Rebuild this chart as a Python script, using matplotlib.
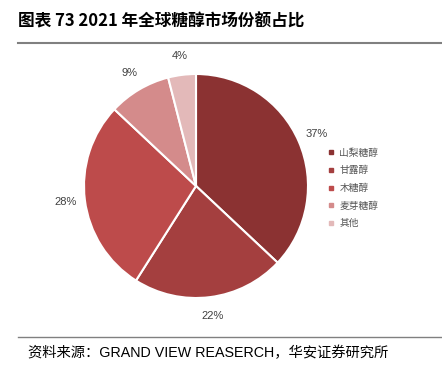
import matplotlib.pyplot as plt
from matplotlib.lines import Line2D

plt.rcParams['font.family'] = ['Noto Sans CJK SC', 'DejaVu Sans']

labels = ['山梨糖醇', '甘露醇', '木糖醇', '麦芽糖醇', '其他']
shares = [37, 22, 28, 9, 4]
colors = ['#8B3232', '#A43F3F', '#BD4B4B', '#D48B8B', '#E3B9B9']

fig = plt.figure(figsize=(4.42, 3.71), dpi=100)

# pie axes: centre ~ (196,186) px, radius ~112 px
cx, cy, r = 196 / 442, 1 - 186 / 371, 112
w = 2 * r / 442
h = 2 * r / 371
ax = fig.add_axes([cx - w / 2, cy - h / 2, w, h])
wedges, texts, autotexts = ax.pie(
    shares, colors=colors, startangle=90, counterclock=False,
    autopct='%d%%', pctdistance=1.17, radius=1,
    wedgeprops=dict(edgecolor='white', linewidth=1.5),
    textprops=dict(fontsize=8, color='#404040', family='Liberation Sans'))
ax.set_xlim(-1, 1)
ax.set_ylim(-1, 1)
ax.set_aspect('equal')

handles = [Line2D([0], [0], marker='s', color='none', markerfacecolor=c,
                  markeredgecolor=c, markersize=3.5) for c in colors]
fig.legend(handles, labels, loc='upper left', bbox_to_anchor=(318 / 442, 1 - 139 / 371),
           frameon=False, fontsize=7, handlelength=0.8, handletextpad=0.5,
           labelspacing=0.78, labelcolor='#555555')

# title and rules
fig.text(18 / 442, 1 - 22 / 371, '图表 73 2021 年全球糖醇市场份额占比',
         fontsize=12, fontweight='bold', va='center', ha='left')
fig.add_artist(Line2D([18 / 442, 1], [1 - 43 / 371, 1 - 43 / 371], color='#808080', lw=1.5))
fig.add_artist(Line2D([18 / 442, 1], [1 - 337 / 371, 1 - 337 / 371], color='#808080', lw=1.0))
fig.text(28 / 442, 1 - 353 / 371, '资料来源：GRAND VIEW REASERCH，华安证券研究所',
         fontsize=10.3, va='center', ha='left',
         family=['Liberation Sans', 'Noto Sans CJK SC'])

fig.savefig('out.png', dpi=100)
